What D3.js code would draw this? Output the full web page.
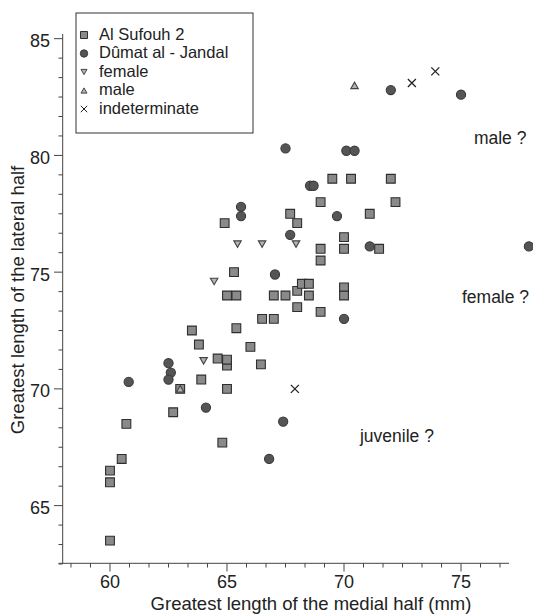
<!DOCTYPE html>
<html>
<head>
<meta charset="utf-8">
<script src="https://cdn.jsdelivr.net/npm/d3@7"></script>
<style>
  body { margin: 0; background: #fff; }
  text { font-family: "Liberation Sans", Arial, Helvetica, sans-serif; fill: #222; }
</style>
</head>
<body>
<div id="chartArea"></div>
<script>

// data: [medial half, lateral half] in mm
var sufouh = [
	[60, 63.5], [60, 66], [60, 66.5], [60.5, 67], [60.7, 68.5], [62.7, 69],
	[63, 70], [63.9, 70.4], [65, 70], [65, 71], [65, 71.25], [64.6, 71.3],
	[63.8, 71.9], [63.5, 72.5], [65.4, 72.6], [65, 74], [65.4, 74], [65.3, 75],
	[64.9, 77.1], [66, 71.8], [66.45, 71.05], [66.5, 73], [67, 73], [67, 74],
	[67.5, 74], [68, 74.2], [68.5, 74], [68, 73.5], [69, 73.3], [68.2, 74.5],
	[68.5, 74.5], [70, 74.35], [70, 74], [69, 75.5], [69, 76], [70, 76],
	[70, 76.5], [71.5, 76], [67.7, 77.5], [68, 77.1], [69, 78], [72.2, 78],
	[69.5, 79], [70.3, 79], [72, 79], [71.1, 77.5], [64.8, 67.7]
];
var dumat = [
	[60.8, 70.3], [62.5, 71.1], [62.6, 70.7], [62.5, 70.4], [64.1, 69.2],
	[66.8, 67], [67.4, 68.6], [67.05, 74.9], [67.7, 76.6], [65.6, 77.4],
	[65.6, 77.8], [67.5, 80.3], [68.55, 78.7], [68.7, 78.7], [69.7, 77.4],
	[70.1, 80.2], [70.45, 80.2], [71.1, 76.1], [70, 73], [72, 82.8],
	[75, 82.6], [77.9, 76.1]
];
var female = [[64.45, 74.6], [64, 71.2], [65.45, 76.2], [66.5, 76.2], [67.95, 76.2]];
var male = [[63, 70], [70.45, 83]];
var indeterminate = [[67.9, 70], [72.9, 83.1], [73.9, 83.6]];

var legendLabels = ['Al Sufouh 2', 'Dûmat al - Jandal', 'female', 'male', 'indeterminate'];
var xTickLabels = [60, 65, 70, 75];
var yTickLabels = [65, 70, 75, 80, 85];
var notes = [
	{ text: 'male ?', x: 75.55, y: 80.5 },
	{ text: 'female ?', x: 75.04, y: 73.68 },
	{ text: 'juvenile ?', x: 70.68, y: 67.73 }
];

// marker shapes
var shapes = {
	square: function (s) { return 'M' + (-s / 2) + ',' + (-s / 2) + 'h' + s + 'v' + s + 'h' + (-s) + 'Z'; },
	circle: function (s) { var r = s / 2; return 'M' + r + ',0A' + r + ',' + r + ' 0 1,1 ' + (-r) + ',0A' + r + ',' + r + ' 0 1,1 ' + r + ',0Z'; },
	down: function (s) { var h = s * 0.87; return 'M' + (-s / 2) + ',' + (-h / 2) + 'L' + (s / 2) + ',' + (-h / 2) + 'L0,' + (h / 2) + 'Z'; },
	up: function (s) { var h = s * 0.87; return 'M' + (-s / 2) + ',' + (h / 2) + 'L' + (s / 2) + ',' + (h / 2) + 'L0,' + (-h / 2) + 'Z'; },
	cross: function (s) { var a = s / 2; return 'M' + (-a) + ',' + (-a) + 'L' + a + ',' + a + 'M' + a + ',' + (-a) + 'L' + (-a) + ',' + a; }
};

var series = [
	{ data: sufouh, shape: 'square', size: 8.8, fill: '#8a8a8a', stroke: '#2e2e2e' },
	{ data: dumat, shape: 'circle', size: 9.2, fill: '#555', stroke: '#3a3a3a' },
	{ data: female, shape: 'down', size: 7.5, fill: '#b4b4b4', stroke: '#444' },
	{ data: male, shape: 'up', size: 7.5, fill: '#b4b4b4', stroke: '#444' },
	{ data: indeterminate, shape: 'cross', size: 8, fill: 'none', stroke: '#222' }
];

var svg = d3.select('#chartArea').append('svg')
	.attr('width', 533)
	.attr('height', 615);

var x = d3.scaleLinear().domain([57.8, 77.05]).range([58.5, 509]);
var y = d3.scaleLinear().domain([62.53, 85.2]).range([563.3, 34]);

// minor ticks every 5/6 mm
var xMinor = d3.range(-2, 21).map(function (i) { return 60 + i * 5 / 6; });
var yMinor = d3.range(-3, 25).map(function (i) { return 65 + i * 5 / 6; }).filter(function (v) { return v <= 85.1; });

var axisColor = '#444';

// x axis
var xAxis = svg.append('g');
xAxis.append('line')
	.attr('x1', x.range()[0]).attr('x2', x.range()[1])
	.attr('y1', 563.3).attr('y2', 563.3)
	.attr('stroke', axisColor);
xAxis.selectAll('.minor')
	.data(xMinor)
	.enter()
	.append('line')
	.attr('x1', function (d) { return x(d); })
	.attr('x2', function (d) { return x(d); })
	.attr('y1', 563.3)
	.attr('y2', function (d, i) { return (i - 2) % 6 === 0 ? 571.5 : 567.5; })
	.attr('stroke', axisColor);
xAxis.selectAll('text')
	.data(xTickLabels)
	.enter()
	.append('text')
	.attr('x', function (d) { return x(d); })
	.attr('y', 588)
	.attr('text-anchor', 'middle')
	.style('font-size', '18px')
	.text(function (d) { return d; });

// y axis
var yAxis = svg.append('g');
yAxis.append('line')
	.attr('x1', 62.7).attr('x2', 62.7)
	.attr('y1', y.range()[0]).attr('y2', y.range()[1])
	.attr('stroke', axisColor);
yAxis.selectAll('.minor')
	.data(yMinor)
	.enter()
	.append('line')
	.attr('y1', function (d) { return y(d); })
	.attr('y2', function (d) { return y(d); })
	.attr('x1', 62.7)
	.attr('x2', function (d, i) { return (i - 3) % 6 === 0 ? 54 : 58.5; })
	.attr('stroke', axisColor);
yAxis.selectAll('text')
	.data(yTickLabels)
	.enter()
	.append('text')
	.attr('x', 50)
	.attr('y', function (d) { return y(d) + 8.5; })
	.attr('text-anchor', 'end')
	.style('font-size', '18px')
	.text(function (d) { return d; });

// axis titles
svg.append('text')
	.attr('x', 311)
	.attr('y', 610)
	.attr('text-anchor', 'middle')
	.style('font-size', '18.5px')
	.text('Greatest length of the medial half (mm)');
svg.append('text')
	.attr('transform', 'translate(24,300) rotate(-90)')
	.attr('text-anchor', 'middle')
	.style('font-size', '18.5px')
	.text('Greatest length of the lateral half');

// points
series.forEach(function (s) {
	svg.append('g')
		.selectAll('path')
		.data(s.data)
		.enter()
		.append('path')
		.attr('transform', function (d) { return 'translate(' + x(d[0]) + ',' + y(d[1]) + ')'; })
		.attr('d', shapes[s.shape](s.size))
		.attr('fill', s.fill)
		.attr('stroke', s.stroke)
		.attr('stroke-width', s.shape === 'cross' ? 1.3 : 1.1);
});

// notes
svg.selectAll('.note')
	.data(notes)
	.enter()
	.append('text')
	.attr('class', 'note')
	.attr('x', function (d) { return x(d.x); })
	.attr('y', function (d) { return y(d.y); })
	.attr('text-anchor', 'start')
	.style('font-size', '17.5px')
	.text(function (d) { return d.text; });

// legend
var legend = svg.append('g');
legend.append('rect')
	.attr('x', 76).attr('y', 13)
	.attr('width', 177).attr('height', 120)
	.attr('fill', '#fff')
	.attr('stroke', '#333');
var items = legend.selectAll('.item')
	.data(series)
	.enter()
	.append('g')
	.attr('transform', function (d, i) { return 'translate(84,' + (33 + i * 18.5) + ')'; });
items.append('path')
	.attr('d', function (d) { return shapes[d.shape](d.size * 0.8); })
	.attr('fill', function (d) { return d.fill; })
	.attr('stroke', function (d) { return d.stroke; })
	.attr('transform', 'translate(0,2)');
items.append('text')
	.attr('x', 15)
	.attr('y', 6.5)
	.style('font-size', '16.5px')
	.text(function (d, i) { return legendLabels[i]; });

</script>
</body>
</html>
